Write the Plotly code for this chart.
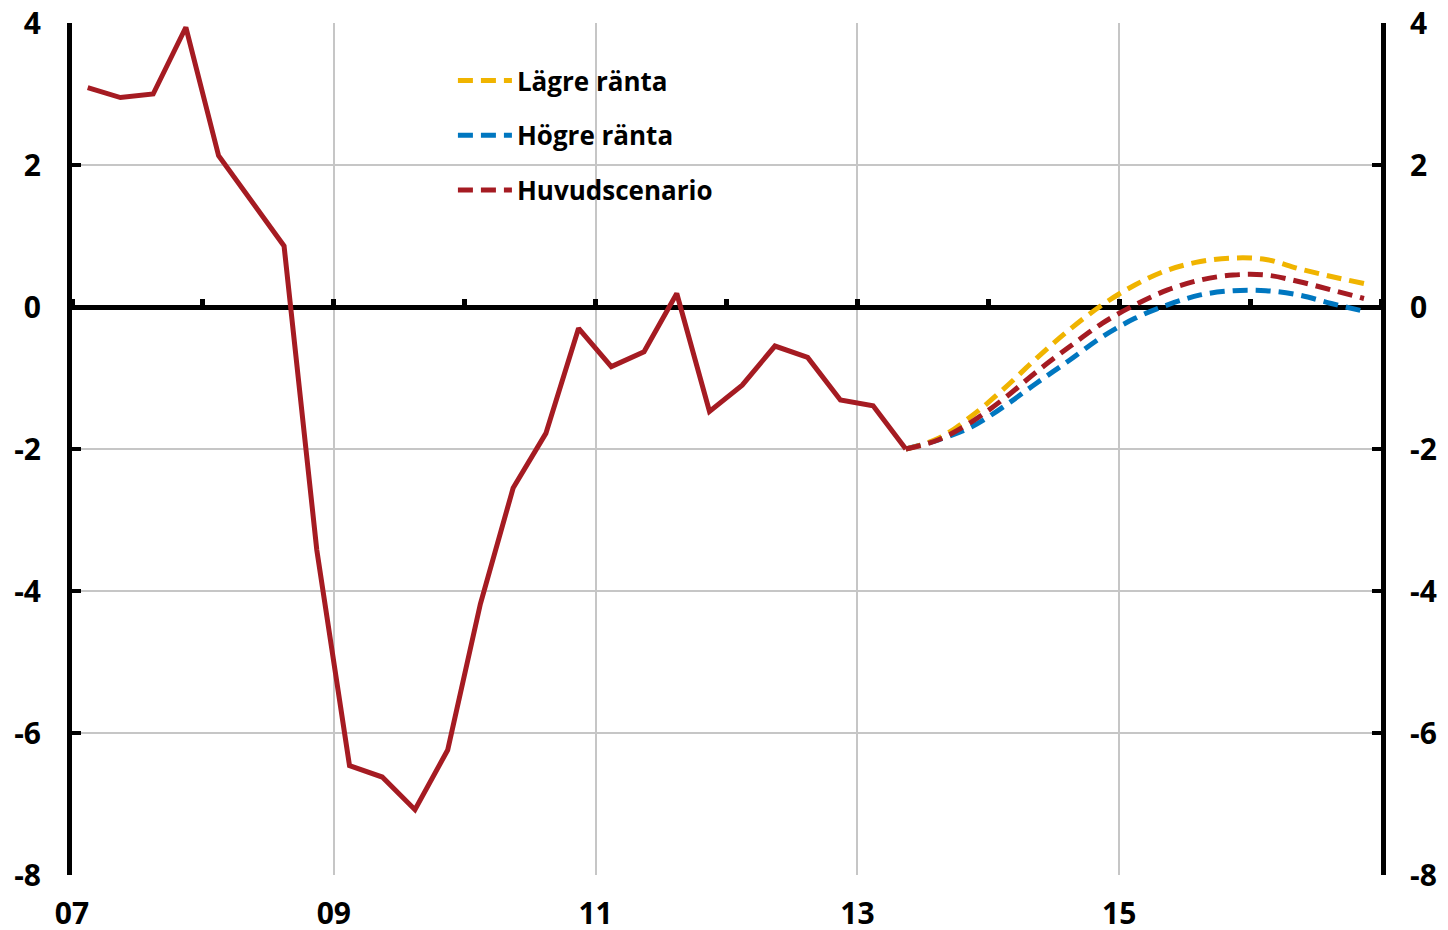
import plotly.graph_objects as go

# ---------------- data ----------------
hist_quarters = ["2007Q1", "2007Q2", "2007Q3", "2007Q4",
                 "2008Q1", "2008Q2", "2008Q3", "2008Q4",
                 "2009Q1", "2009Q2", "2009Q3", "2009Q4",
                 "2010Q1", "2010Q2", "2010Q3", "2010Q4",
                 "2011Q1", "2011Q2", "2011Q3", "2011Q4",
                 "2012Q1", "2012Q2", "2012Q3", "2012Q4",
                 "2013Q1", "2013Q2"]
hist_values = [3.09, 2.95, 3.00, 3.94,
               2.13, 1.48, 0.86, -3.42,
               -6.46, -6.62, -7.08, -6.24,
               -4.18, -2.55, -1.78, -0.30,
               -0.84, -0.63, 0.19, -1.47,
               -1.10, -0.55, -0.71, -1.31,
               -1.39, -2.00]

fc_quarters = ["2013Q2", "2013Q3", "2013Q4",
               "2014Q1", "2014Q2", "2014Q3", "2014Q4",
               "2015Q1", "2015Q2", "2015Q3", "2015Q4",
               "2016Q1", "2016Q2", "2016Q3", "2016Q4"]
lower_rate = [-2.00, -1.85, -1.54, -1.15, -0.72, -0.32, 0.03,
              0.31, 0.52, 0.64, 0.69, 0.67, 0.54, 0.43, 0.33]
higher_rate = [-2.00, -1.87, -1.69, -1.40, -1.07, -0.75, -0.42,
               -0.16, 0.03, 0.17, 0.23, 0.23, 0.17, 0.05, -0.06]
main_scen = [-2.00, -1.87, -1.62, -1.29, -0.91, -0.56, -0.23,
             0.03, 0.24, 0.38, 0.45, 0.45, 0.36, 0.24, 0.12]

x_tickvals = [2007, 2009, 2011, 2013, 2015]
x_ticktext = ["07", "09", "11", "13", "15"]
y_tickvals = [-8, -6, -4, -2, 0, 2, 4]
y_ticktext = ["-8", "-6", "-4", "-2", "0", "2", "4"]

series_names = ["Lägre ränta", "Högre ränta", "Huvudscenario"]


def q2x(q):
    year, qq = q.split("Q")
    return int(year) + (int(qq) - 1) * 0.25 + 0.12


hist_x = [q2x(q) for q in hist_quarters]
fc_x = [q2x(q) for q in fc_quarters]

RED = "#A51B22"
YELLOW = "#F0B400"
BLUE = "#0077C0"
FONT = "Open Sans"
DASH = "15px,8px"
LW = 5

fig = go.Figure()

# forecast lines (blue under yellow under red)
fig.add_trace(go.Scatter(x=fc_x, y=higher_rate, mode="lines", name=series_names[1],
                         line=dict(color=BLUE, width=LW, dash=DASH, shape="spline"),
                         legendgroup="b", legendrank=2))
fig.add_trace(go.Scatter(x=fc_x, y=lower_rate, mode="lines", name=series_names[0],
                         line=dict(color=YELLOW, width=LW, dash=DASH, shape="spline"),
                         legendgroup="a", legendrank=1))
fig.add_trace(go.Scatter(x=fc_x, y=main_scen, mode="lines", name=series_names[2],
                         line=dict(color=RED, width=LW, dash=DASH, shape="spline"),
                         legendgroup="c", legendrank=3))
# history on overlay axes (right axis + zero-line ticks)
fig.add_trace(go.Scatter(x=hist_x, y=hist_values, mode="lines", showlegend=False,
                         line=dict(color=RED, width=LW),
                         xaxis="x2", yaxis="y2"))

x_range = [2007, 2017]
y_range = [-8, 4]
zero_pos = (0 - y_range[0]) / (y_range[1] - y_range[0])
tickfont = dict(family=FONT, size=30, weight="bold", color="black")

fig.update_layout(
    width=1440, height=922,
    margin=dict(l=64, r=67, t=15, b=55, autoexpand=False),
    paper_bgcolor="white", plot_bgcolor="white",
    font=dict(family=FONT, color="black"),
    showlegend=True,
    legend=dict(x=0.291, y=0.960, xanchor="left", yanchor="top",
                bgcolor="rgba(0,0,0,0)", traceorder="grouped",
                tracegroupgap=18, itemwidth=54,
                font=dict(family=FONT, size=26, weight="bold", color="black")),
    xaxis=dict(range=x_range, tickvals=x_tickvals, ticktext=x_ticktext,
               showgrid=True, gridcolor="#C6C6C6", gridwidth=1.5,
               zeroline=False, showline=False, ticks="", automargin=False,
               ticklabeloverflow="allow",
               ticklabelstandoff=18, tickfont=tickfont),
    yaxis=dict(range=y_range, tickvals=y_tickvals, ticktext=y_ticktext,
               showgrid=True, gridcolor="#C6C6C6", gridwidth=1.5,
               zeroline=True, zerolinecolor="black", zerolinewidth=5,
               showline=True, linecolor="black", linewidth=5,
               ticks="inside", ticklen=9, tickwidth=4, tickcolor="black",
               ticklabeloverflow="allow",
               automargin=False, ticklabelstandoff=20, tickfont=tickfont),
    xaxis2=dict(range=x_range, overlaying="x", anchor="free", position=zero_pos,
                side="top", dtick=1, tick0=2007, ticks="outside", ticklen=8,
                tickwidth=5, tickcolor="black", showticklabels=False,
                showgrid=False, zeroline=False, showline=False, automargin=False),
    yaxis2=dict(range=y_range, overlaying="y", side="right", anchor="x",
                tickvals=y_tickvals, ticktext=y_ticktext,
                showgrid=False, zeroline=False,
                showline=True, linecolor="black", linewidth=5,
                ticks="inside", ticklen=9, tickwidth=4, tickcolor="black",
                ticklabeloverflow="allow",
                automargin=False, ticklabelstandoff=18, tickfont=tickfont),
)

fig.write_html("out.html")
